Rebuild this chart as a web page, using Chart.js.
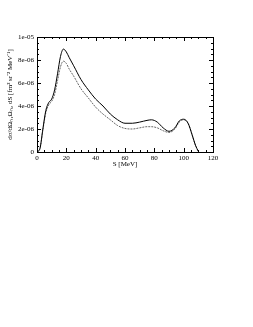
<!DOCTYPE html>
<html>
<head>
<meta charset="utf-8">
<script src="https://cdn.jsdelivr.net/npm/chart.js@4/dist/chart.umd.min.js"></script>
<style>
  html, body { margin: 0; padding: 0; background: #fff; }
  #wrap { width: 253px; height: 327px; }
</style>
</head>
<body>
<div id="wrap"><canvas id="chart" width="253" height="327"></canvas></div>
<script>
// S in MeV
const energies = [0, 2, 4, 6, 8, 10, 12, 14, 16, 18, 20, 22, 25, 30, 35, 40, 45, 50, 55, 60, 65, 70, 75, 78, 82, 86, 90, 94, 97, 100, 103, 106, 108, 110];
// values in units of 1e-06
const solidCurve = [0, 0.3, 2.0, 3.6, 4.3, 4.6, 5.4, 6.8, 8.3, 8.95, 8.7, 8.2, 7.5, 6.3, 5.4, 4.6, 4.0, 3.3, 2.8, 2.5, 2.5, 2.6, 2.75, 2.8, 2.6, 2.1, 1.8, 2.1, 2.7, 2.85, 2.5, 1.4, 0.6, 0.05];
const dashedCurve = [0, 0.3, 1.9, 3.4, 4.1, 4.4, 5.0, 6.2, 7.4, 7.9, 7.7, 7.2, 6.6, 5.5, 4.7, 3.9, 3.3, 2.8, 2.3, 2.05, 2.0, 2.1, 2.2, 2.2, 2.1, 1.85, 1.7, 2.0, 2.6, 2.8, 2.5, 1.4, 0.6, 0.05];
const xTickLabels = ['0', '20', '40', '60', '80', '100', '120'];
const yTickLabels = ['0', '2e-06', '4e-06', '6e-06', '8e-06', '1e-05'];

const serif = 'Liberation Serif';

function toPoints(vals) {
  return vals.map((v, i) => ({ x: energies[i], y: v * 1e-6 }));
}

// inward ticks on all four sides plus the frame
const framePlugin = {
  id: 'frame',
  afterDraw(chart) {
    const ctx = chart.ctx;
    const a = chart.chartArea;
    const xs = chart.scales.x, ys = chart.scales.y;
    ctx.save();
    ctx.strokeStyle = '#000';
    ctx.lineWidth = 1;
    ctx.strokeRect(Math.round(a.left) + 0.5, Math.round(a.top) + 0.5, Math.round(a.right - a.left), Math.round(a.bottom - a.top));
    ctx.beginPath();
    for (let v = 0; v <= 120; v += 5) {
      const px = Math.round(xs.getPixelForValue(v)) + 0.5;
      const len = v % 20 === 0 ? 4 : 2;
      ctx.moveTo(px, a.bottom); ctx.lineTo(px, a.bottom - len);
      ctx.moveTo(px, a.top); ctx.lineTo(px, a.top + len);
    }
    for (let k = 0; k <= 20; k++) {
      const py = Math.round(ys.getPixelForValue(k * 0.5e-6)) + 0.5;
      const len = k % 4 === 0 ? 4 : 2;
      ctx.moveTo(a.left, py); ctx.lineTo(a.left + len, py);
      ctx.moveTo(a.right, py); ctx.lineTo(a.right - len, py);
    }
    ctx.stroke();
    ctx.restore();
  }
};

new Chart(document.getElementById('chart'), {
  type: 'line',
  data: {
    datasets: [
      {
        data: toPoints(solidCurve),
        borderColor: '#000',
        borderWidth: 1,
        pointRadius: 0,
        cubicInterpolationMode: 'monotone'
      },
      {
        data: toPoints(dashedCurve),
        borderColor: '#666',
        borderWidth: 1,
        borderDash: [2, 1],
        pointRadius: 0,
        cubicInterpolationMode: 'monotone'
      }
    ]
  },
  options: {
    responsive: false,
    animation: false,
    layout: { padding: { left: 0, top: 37, right: 40, bottom: 155 } },
    plugins: { legend: { display: false }, tooltip: { enabled: false } },
    scales: {
      x: {
        type: 'linear',
        min: 0, max: 120,
        grid: { display: false, drawTicks: false },
        border: { display: false },
        afterFit(scale) { scale.height = 20; },
        ticks: {
          stepSize: 20,
          padding: 2,
          maxRotation: 0,
          color: '#000',
          font: { family: serif, size: 7 },
          callback: (v, i) => xTickLabels[i]
        },
        title: {
          display: true,
          text: 'S [MeV]',
          color: '#000',
          padding: 4,
          font: { family: serif, size: 7 }
        }
      },
      y: {
        min: 0, max: 1e-5,
        grid: { display: false, drawTicks: false },
        border: { display: false },
        afterFit(scale) { scale.width = 37; },
        ticks: {
          stepSize: 2e-6,
          padding: 3,
          color: '#000',
          font: { family: serif, size: 7 },
          callback: (v, i) => yTickLabels[i]
        },
        title: {
          display: true,
          text: 'dσ/dΩₙ₁Ωₙ₂ dS [fm² sr⁻² MeV⁻¹]',
          color: '#000',
          padding: 6,
          font: { family: serif, size: 7 }
        }
      }
    }
  },
  plugins: [framePlugin]
});
</script>
</body>
</html>
